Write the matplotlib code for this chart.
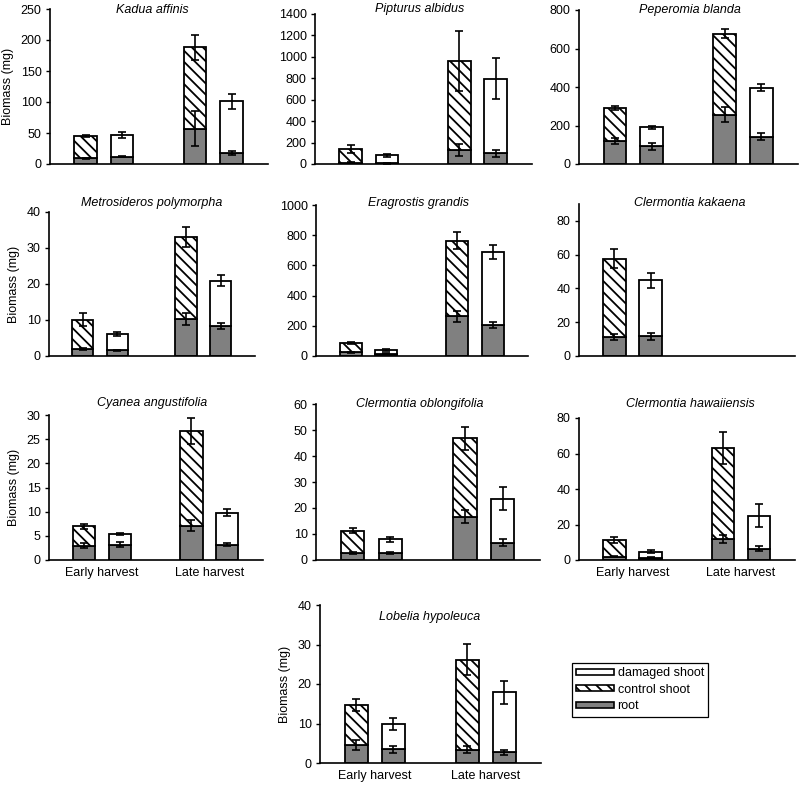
import numpy as np
import matplotlib
matplotlib.use("Agg")
import matplotlib.pyplot as plt
from matplotlib.patches import Patch

plt.rcParams['font.family'] = ['Liberation Sans', 'DejaVu Sans']
plt.rcParams['hatch.linewidth'] = 1.3

# bar order: early control, early damaged, late control, late damaged
species = ["Kadua affinis", "Pipturus albidus", "Peperomia blanda",
           "Metrosideros polymorpha", "Eragrostis grandis", "Clermontia kakaena",
           "Cyanea angustifolia", "Clermontia oblongifolia", "Clermontia hawaiiensis",
           "Lobelia hypoleuca"]

total_mean = [[45, 47, 188, 101],
              [143, 84, 963, 798],
              [290, 192, 677, 397],
              [10.1, 6.2, 33.1, 20.9],
              [88, 38, 763, 688],
              [57.7, 44.9, np.nan, np.nan],
              [7.0, 5.4, 26.6, 9.8],
              [11.3, 7.9, 46.8, 23.6],
              [11.3, 4.7, 63, 24.9],
              [14.7, 9.9, 26.2, 17.9]]
total_err = [[1, 5, 20, 12],
             [37, 14, 280, 190],
             [10, 8, 24, 20],
             [1.8, 0.6, 2.8, 1.5],
             [8, 8, 55, 44],
             [5.5, 4.5, np.nan, np.nan],
             [0.5, 0.2, 2.7, 0.7],
             [1.1, 1.1, 4.5, 4.3],
             [1.5, 1.0, 9, 6.4],
             [1.5, 1.6, 4.0, 2.9]]
root_mean = [[9, 12, 57, 18],
             [10, 8, 130, 100],
             [121, 92, 256, 142],
             [1.9, 1.6, 10.3, 8.4],
             [24, 15, 263, 206],
             [11.3, 11.7, np.nan, np.nan],
             [3.0, 3.2, 7.1, 3.2],
             [2.6, 2.6, 16.7, 6.7],
             [1.9, 1.3, 11.9, 6.4],
             [4.5, 3.5, 3.4, 2.7]]
root_err = [[1, 1.5, 28, 3],
            [5, 4, 55, 30],
            [15, 18, 40, 18],
            [0.3, 0.2, 1.7, 0.8],
            [4, 4, 35, 20],
            [1.8, 2.2, np.nan, np.nan],
            [0.6, 0.5, 1.2, 0.4],
            [0.3, 0.3, 2.5, 1.3],
            [0.3, 0.3, 2.2, 1.3],
            [1.3, 0.9, 0.8, 0.6]]
ymax = [250, 1400, 800, 40, 1000, 90, 30, 60, 80, 40]
ystep = [50, 200, 200, 10, 200, 20, 5, 10, 20, 10]
harvest_labels = ["Early harvest", "Late harvest"]

# panel rectangles in pixels: left, top, right, bottom (y down)
rects = [(50, 9, 268, 164), (315, 14, 532, 164), (579, 10, 798, 164),
         (49, 212, 255, 356), (316, 205, 528, 356), (579, 204, 795, 356),
         (49, 415, 263, 560), (316, 404, 540, 560), (579, 418, 795, 560),
         (320, 605, 541, 763)]
title_pos = [(152, 10), (420, 9), (690, 10), (152, 203), (418, 203), (690, 203),
             (152, 403), (420, 404), (690, 404), (430, 617)]
show_xlabels = [False] * 6 + [True, False, True, True]
show_ylabel = [True, False, False, True, False, False, True, False, False, True]

W, H = 800, 786
fig = plt.figure(figsize=(W / 100, H / 100), dpi=100)

xpos = np.array([1, 2, 4, 5])
bw = 0.62
grey = "#808080"
fs = 9

for i, name in enumerate(species):
    l, t, r, b = rects[i]
    ax = fig.add_axes([l / W, 1 - b / H, (r - l) / W, (b - t) / H])
    tot = np.array(total_mean[i], dtype=float)
    rt = np.array(root_mean[i], dtype=float)
    ok = ~np.isnan(tot)
    ax.bar(xpos[ok], rt[ok], bw, color=grey, edgecolor="black", linewidth=1.3, zorder=2)
    for j in range(4):
        if not ok[j]:
            continue
        hatch = "\\\\\\" if j % 2 == 0 else None
        ax.bar(xpos[j], tot[j] - rt[j], bw, bottom=rt[j], color="white",
               edgecolor="black", linewidth=1.3, hatch=hatch, zorder=2)
    ax.errorbar(xpos[ok], tot[ok], yerr=np.array(total_err[i])[ok], fmt="none",
                ecolor="black", elinewidth=1.2, capsize=3, capthick=1.2, zorder=3)
    ax.errorbar(xpos[ok], rt[ok], yerr=np.array(root_err[i])[ok], fmt="none",
                ecolor="black", elinewidth=1.2, capsize=3, capthick=1.2, zorder=3)

    ax.set_xlim(0.02, 6.0)
    ax.set_ylim(0, ymax[i])
    ax.set_yticks(np.arange(0, ymax[i] + 1e-9, ystep[i]))
    ax.spines['top'].set_visible(False)
    ax.spines['right'].set_visible(False)
    ax.spines['left'].set_linewidth(1.2)
    ax.spines['bottom'].set_linewidth(1.2)
    ax.tick_params(axis='y', length=3, width=1, labelsize=fs, pad=3)
    if show_xlabels[i]:
        ax.set_xticks([1.5, 4.5])
        ax.set_xticklabels(harvest_labels, fontsize=fs)
        ax.tick_params(axis='x', length=0, pad=5)
    else:
        ax.set_xticks([])
    if show_ylabel[i]:
        ax.set_ylabel("Biomass (mg)", fontsize=fs, labelpad=5)
    fig.text(title_pos[i][0] / W, 1 - title_pos[i][1] / H, name, fontsize=fs,
             style="italic", ha="center", va="center")

handles = [Patch(facecolor="white", edgecolor="black", linewidth=1.2),
           Patch(facecolor="white", edgecolor="black", linewidth=1.2, hatch="\\\\\\"),
           Patch(facecolor=grey, edgecolor="black", linewidth=1.2)]
leg = fig.legend(handles, ["damaged shoot", "control shoot", "root"],
                 loc="upper left", bbox_to_anchor=(572 / W, 1 - 663 / H),
                 fontsize=fs, fancybox=False, edgecolor="black", framealpha=1,
                 handlelength=3.0, handleheight=0.35, handletextpad=0.3,
                 labelspacing=0.35, borderpad=0.35, borderaxespad=0)
leg.get_frame().set_linewidth(0.9)

fig.savefig("out.png", dpi=100)
